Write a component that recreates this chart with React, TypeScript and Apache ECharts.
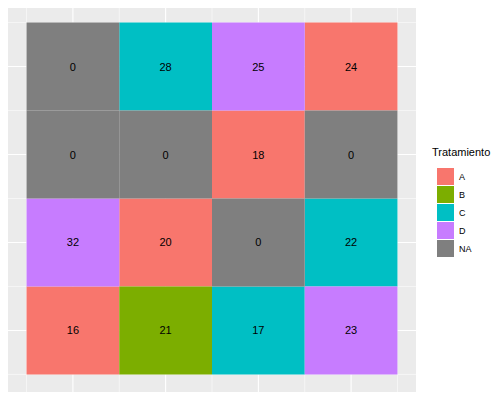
import { useEffect, useRef } from 'react';
import * as echarts from 'echarts';

const treatments = ['A', 'B', 'C', 'D', 'NA'];
const colors = ['#F8766D', '#7CAE00', '#00BFC4', '#C77CFF', '#7F7F7F'];
// rows from bottom (y=1) to top (y=4), columns x=1..4
const rowTreat = [
  ['A', 'B', 'C', 'D'],
  ['D', 'A', 'NA', 'C'],
  ['NA', 'NA', 'A', 'NA'],
  ['NA', 'C', 'D', 'A'],
];
const rowValues = [
  [16, 21, 17, 23],
  [32, 20, 0, 22],
  [0, 0, 18, 0],
  [0, 28, 25, 24],
];
const gridBreaks = [0.5, 1, 1.5, 2, 2.5, 3, 3.5, 4, 4.5];

export default function App() {
  const ref = useRef<HTMLDivElement>(null);

  useEffect(() => {
    if (!ref.current) return;
    const chart = echarts.init(ref.current, null, { renderer: 'svg' });

    const tileSeries = treatments.map((t, i) => {
      const data: number[][] = [];
      rowTreat.forEach((row, r) =>
        row.forEach((tr, c) => {
          if (tr === t) data.push([c + 1, r + 1, rowValues[r][c]]);
        })
      );
      return {
        name: t,
        type: 'custom',
        itemStyle: { color: colors[i] },
        data,
        renderItem: (params: any, api: any) => {
          const p0 = api.coord([api.value(0) - 0.5, api.value(1) + 0.5]);
          const p1 = api.coord([api.value(0) + 0.5, api.value(1) - 0.5]);
          return {
            type: 'group',
            children: [
              {
                type: 'rect',
                shape: { x: p0[0], y: p0[1], width: p1[0] - p0[0], height: p1[1] - p0[1] },
                style: { fill: colors[i] },
              },
              {
                type: 'text',
                style: {
                  text: String(api.value(2)),
                  x: (p0[0] + p1[0]) / 2,
                  y: (p0[1] + p1[1]) / 2,
                  align: 'center',
                  verticalAlign: 'middle',
                  fill: '#000',
                  font: '11px Liberation Sans, Arial, sans-serif',
                },
              },
            ],
          };
        },
      };
    });

    const gridSeries = {
      type: 'custom',
      silent: true,
      data: gridBreaks.map((b) => [b]),
      renderItem: (params: any, api: any) => {
        const cs = params.coordSys;
        const v = api.value(0);
        const w = Number.isInteger(v) ? 1.1 : 0.55;
        const px = api.coord([v, 0.3])[0];
        const py = api.coord([0.3, v])[1];
        return {
          type: 'group',
          children: [
            { type: 'line', shape: { x1: px, y1: cs.y, x2: px, y2: cs.y + cs.height }, style: { stroke: '#fff', lineWidth: w } },
            { type: 'line', shape: { x1: cs.x, y1: py, x2: cs.x + cs.width, y2: py }, style: { stroke: '#fff', lineWidth: w } },
          ],
        };
      },
    };

    chart.setOption({
      animation: false,
      grid: { left: 8, top: 5, width: 408, height: 387, show: true, backgroundColor: '#EBEBEB', borderWidth: 0 },
      xAxis: { type: 'value', min: 0.3, max: 4.7, show: false },
      yAxis: { type: 'value', min: 0.3, max: 4.7, show: false },
      legend: {
        orient: 'vertical',
        left: 432,
        top: 145,
        data: treatments,
        icon: 'rect',
        itemWidth: 17,
        itemHeight: 17,
        itemGap: 1,
        textStyle: { fontSize: 9, color: '#000', fontFamily: 'Liberation Sans, Arial, sans-serif' },
        title: undefined,
      },
      graphic: [
        {
          type: 'text',
          left: 432,
          top: 146,
          style: { text: 'Tratamiento', fontSize: 11, fill: '#000', fontFamily: 'Liberation Sans, Arial, sans-serif' },
        },
      ],
      series: [gridSeries, ...tileSeries],
    });
    // shift legend below title
    chart.setOption({ legend: { top: 163 } });
    return () => chart.dispose();
  }, []);

  return <div ref={ref} style={{ width: 500, height: 400, margin: -8 }} />;
}
